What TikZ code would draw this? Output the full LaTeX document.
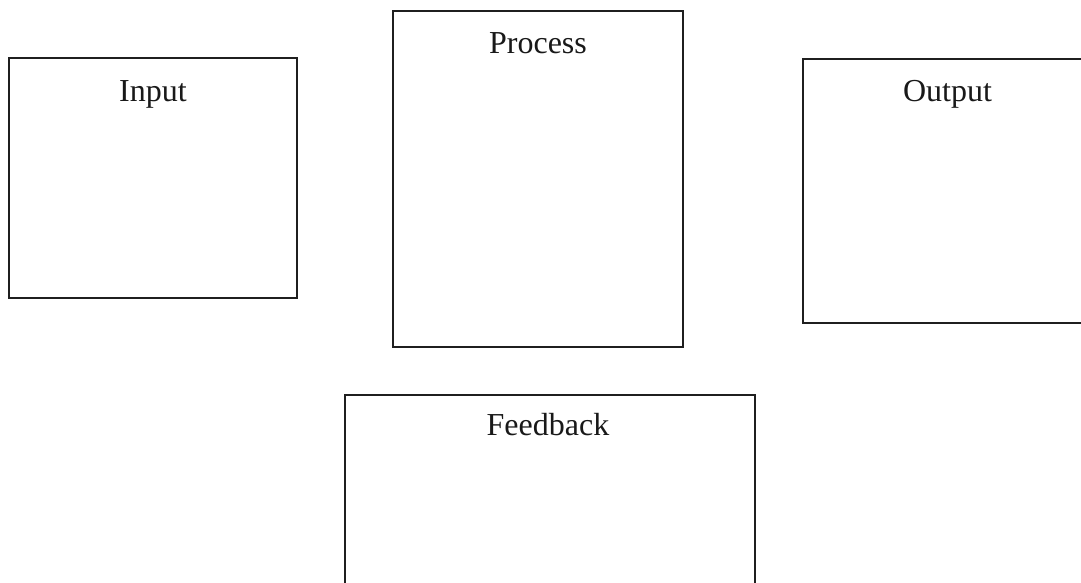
\documentclass[tikz,border=0pt]{standalone}
\usepackage{fontspec}
\setmainfont{Liberation Serif}
\usetikzlibrary{calc}
\begin{document}
\begin{tikzpicture}[x=1pt,y=-1pt,
  boxstyle/.style={draw=black!88, line width=1.6pt, inner sep=0pt, outer sep=0pt, fill=none},
  lbl/.style={anchor=base, inner sep=0pt, font=\fontsize{32}{36}\selectfont, text=black!90}]
\useasboundingbox (0,0) rectangle (1081,582);
\clip (0,0) rectangle (1081,582);
\node[boxstyle, minimum width=288pt, minimum height=240pt] (input) at (153,178) {};
\node[boxstyle, minimum width=290pt, minimum height=336pt] (process) at (538,179) {};
\node[boxstyle, minimum width=289pt, minimum height=264pt] (output) at (947.5,191) {};
\node[boxstyle, minimum width=410pt, minimum height=230pt] (feedback) at (550,510) {};
\node[lbl] (tin) at ($(input.north)+(0,43)$) {Input};
\node[lbl] (tpr) at ($(process.north)+(0,42)$) {Process};
\node[lbl] (tout) at ($(output.north)+(0,42)$) {Output};
\node[lbl] (tfb) at ($(feedback.north)+(-2,40)$) {Feedback};
\end{tikzpicture}
\end{document}
